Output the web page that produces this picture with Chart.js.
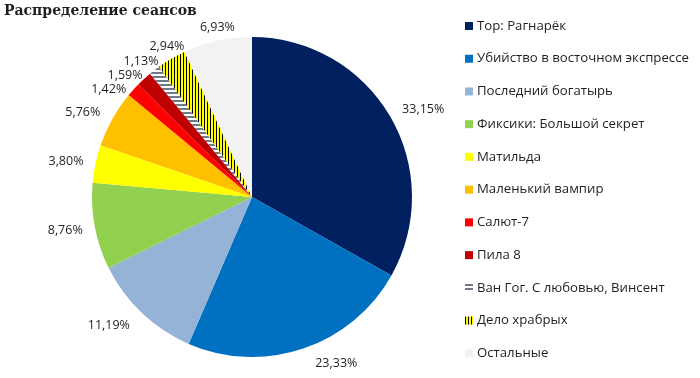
<!DOCTYPE html>
<html>
<head>
<meta charset="utf-8">
<script src="https://cdn.jsdelivr.net/npm/chart.js@4.4.1/dist/chart.umd.min.js"></script>
<style>
  html, body { margin: 0; padding: 0; background: #fff; }
  #wrap { width: 700px; height: 378px; position: relative; }
</style>
</head>
<body>
<div id="wrap"><canvas id="sessionsChart"></canvas></div>
<script>
// data
const films = [
  "Тор: Рагнарёк",
  "Убийство в восточном экспрессе",
  "Последний богатырь",
  "Фиксики: Большой секрет",
  "Матильда",
  "Маленький вампир",
  "Салют-7",
  "Пила 8",
  "Ван Гог. С любовью, Винсент",
  "Дело храбрых",
  "Остальные",
];
const shares = [33.15, 23.33, 11.19, 8.76, 3.8, 5.76, 1.42, 1.59, 1.13, 2.94, 6.93];

// fill patterns for two slices
function makePattern(w, h, bg, fg, drawLines) {
  const c = document.createElement("canvas");
  c.width = w;
  c.height = h;
  const g = c.getContext("2d");
  g.fillStyle = bg;
  g.fillRect(0, 0, w, h);
  g.fillStyle = fg;
  drawLines(g);
  return document.getElementById("sessionsChart").getContext("2d").createPattern(c, "repeat");
}
const grayStripes = makePattern(4, 4, "#ffffff", "#6e7a89", (g) => g.fillRect(0, 0, 4, 2));
const yellowStripes = makePattern(3, 3, "#ffff00", "#000000", (g) => g.fillRect(0, 0, 1, 3));

const colors = [
  "#002060",
  "#0070c0",
  "#95b3d7",
  "#92d050",
  "#ffff00",
  "#ffc000",
  "#ff0000",
  "#c00000",
  grayStripes,
  yellowStripes,
  "#f2f2f2",
];

const textColor = "#1f1f1f";
const labelFont = "12.5px 'Open Sans'";

// percentage labels outside the pie (roughly Excel's "best fit")
const outsideLabels = {
  id: "outsideLabels",
  afterDatasetsDraw(chart) {
    const ctx = chart.ctx;
    const arcs = chart.getDatasetMeta(0).data;
    const h = 14;
    ctx.save();
    ctx.font = labelFont;
    const items = arcs.map((arc, i) => {
      const text = shares[i].toFixed(2).replace(".", ",") + "%";
      const ang = (arc.startAngle + arc.endAngle) / 2;
      const c = Math.cos(ang);
      const s = Math.sin(ang);
      const w = ctx.measureText(text).width;
      // horizontal push: full at the sides, fades out towards the top
      const k = s > 0 ? Math.min(1, Math.abs(c) / 0.3) : Math.max(0, Math.min(1, (Math.abs(c) - 0.45) / 0.35));
      return {
        text,
        w,
        x: arc.x + arc.outerRadius * c + Math.sign(c) * (w / 2 + 12) * k,
        y: arc.y + arc.outerRadius * s + 15 * s,
      };
    });
    // move overlapping labels apart vertically, keep the later one fixed
    const hit = (a, b) => Math.abs(a.x - b.x) < (a.w + b.w) / 2 + 1 && Math.abs(a.y - b.y) < h;
    for (let n = 0; n < 400; n++) {
      let moved = false;
      for (let i = items.length - 2; i >= 0; i--) {
        const a = items[i];
        const b = items[i + 1];
        if (hit(a, b)) {
          a.y += a.y >= b.y ? 0.25 : -0.25;
          moved = true;
        }
      }
      if (!moved) break;
    }
    ctx.fillStyle = textColor;
    ctx.textAlign = "center";
    ctx.textBaseline = "middle";
    items.forEach((it) => ctx.fillText(it.text, it.x, it.y + 1));
    ctx.restore();
  },
};

// title + legend drawn on the right like the original
const sideLegend = {
  id: "sideLegend",
  afterDraw(chart) {
    const ctx = chart.ctx;
    const ds = chart.data.datasets[0];
    ctx.save();
    ctx.fillStyle = textColor;
    ctx.font = "bold 14px 'DejaVu Serif'";
    ctx.textAlign = "left";
    ctx.textBaseline = "middle";
    ctx.fillText("Распределение сеансов", 4, 11);

    ctx.font = "13.2px 'Open Sans'";
    chart.data.labels.forEach((label, i) => {
      const y = 26 + i * 32.73;
      ctx.fillStyle = ds.backgroundColor[i];
      ctx.fillRect(465, y - 4, 8, 8);
      ctx.fillStyle = textColor;
      ctx.fillText(label, 477, y);
    });
    ctx.restore();
  },
};

const ctx = document.getElementById("sessionsChart").getContext("2d");
const sessionsChart = new Chart(ctx, {
  type: "pie",
  data: {
    labels: films,
    datasets: [
      {
        data: shares,
        backgroundColor: colors,
        borderWidth: 0,
      },
    ],
  },
  options: {
    responsive: true,
    maintainAspectRatio: false,
    animation: false,
    layout: {
      padding: { left: 92, right: 288, top: 37, bottom: 21 },
    },
    plugins: {
      legend: { display: false },
      tooltip: { enabled: false },
    },
  },
  plugins: [outsideLabels, sideLegend],
});
</script>
</body>
</html>
